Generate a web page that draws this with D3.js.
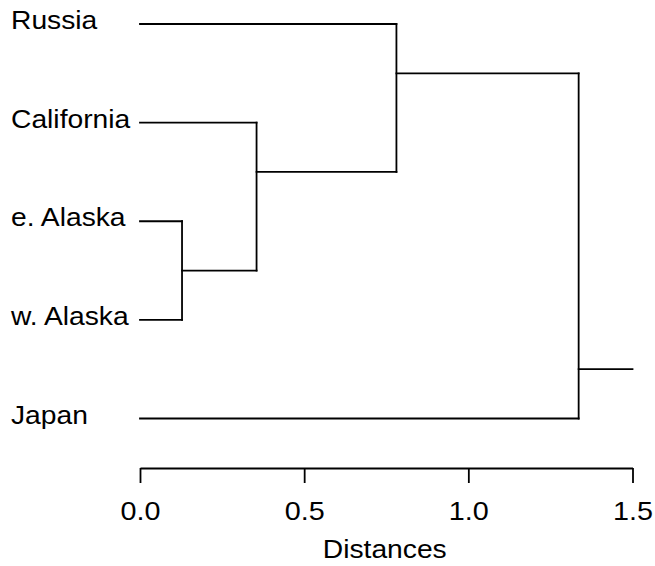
<!DOCTYPE html>
<html>
<head>
<meta charset="utf-8">
<script src="https://cdn.jsdelivr.net/npm/d3@7"></script>
<style>
  html, body { margin: 0; padding: 0; background: #fff; }
  svg { display: block; }
  text { font-family: "Liberation Sans", Arial, Helvetica, sans-serif; fill: #000; }
</style>
</head>
<body>
<svg id="chart" width="655" height="566"></svg>
<script>
// ---- data ----
const leaves = ["Russia", "California", "e. Alaska", "w. Alaska", "Japan"];
const joinNames = ["C1", "C2", "C3", "C4"];
const joinLeft = ["e. Alaska", "California", "Russia", "C3"];
const joinRight = ["w. Alaska", "C1", "C2", "Japan"];
const joinDistance = [0.128, 0.355, 0.781, 1.336];
const axisTicks = [0.0, 0.5, 1.0, 1.5];
const axisTitle = "Distances";

// ---- layout ----
const svg = d3.select("#chart");
const stretch = 1.13;
const x = d3.scaleLinear().domain([0, 1.5]).range([140, 632.5]);
const y = d3.scalePoint().domain(leaves).range([24, 418.5]);
const axisY = 468;

// node info
const nodes = {};
leaves.forEach(l => { nodes[l] = { d: 0, y: y(l), first: l, last: l }; });
joinNames.forEach((n, i) => {
  const L = nodes[joinLeft[i]], R = nodes[joinRight[i]];
  nodes[n] = {
    d: joinDistance[i],
    y: (y(L.last) + y(R.first)) / 2,
    first: L.first,
    last: R.last,
    left: L, right: R
  };
});

const g = svg.append("g")
  .attr("fill", "none")
  .attr("stroke", "#000")
  .attr("stroke-width", 1.8)
  .attr("stroke-linecap", "square");

joinNames.forEach(n => {
  const nd = nodes[n];
  [nd.left, nd.right].forEach(c => {
    g.append("line")
      .attr("x1", x(c.d)).attr("x2", x(nd.d))
      .attr("y1", c.y).attr("y2", c.y);
  });
  g.append("line")
    .attr("x1", x(nd.d)).attr("x2", x(nd.d))
    .attr("y1", nd.left.y).attr("y2", nd.right.y);
});
// root stub to end of axis
const root = nodes[joinNames[joinNames.length - 1]];
g.append("line")
  .attr("x1", x(root.d)).attr("x2", x(x.domain()[1]))
  .attr("y1", root.y).attr("y2", root.y);

// leaf labels
leaves.forEach(l => {
  svg.append("g")
    .attr("transform", `translate(11,${y(l) + 5}) scale(${stretch},1)`)
    .append("text")
    .attr("font-size", 25)
    .text(l);
});

// axis
const axis = d3.axisBottom(x)
  .tickValues(axisTicks)
  .tickSize(15)
  .tickSizeOuter(0)
  .tickPadding(19)
  .tickFormat(d3.format(".1f"));
const ax = svg.append("g")
  .attr("transform", `translate(0,${axisY})`)
  .call(axis);
ax.select(".domain").attr("stroke", "#000").attr("stroke-width", 1.8);
ax.selectAll(".tick line").attr("stroke", "#000").attr("stroke-width", 1.8);
ax.selectAll(".tick text")
  .attr("font-size", 25)
  .attr("font-family", "Liberation Sans, Arial, sans-serif")
  .attr("fill", "#000")
  .attr("transform", `scale(1.15,1)`);

svg.append("g")
  .attr("transform", `translate(${(x.range()[0] + x.range()[1]) / 2 - 1.5},558) scale(${stretch},1)`)
  .append("text")
  .attr("text-anchor", "middle")
  .attr("font-size", 25)
  .text(axisTitle);
</script>
</body>
</html>
